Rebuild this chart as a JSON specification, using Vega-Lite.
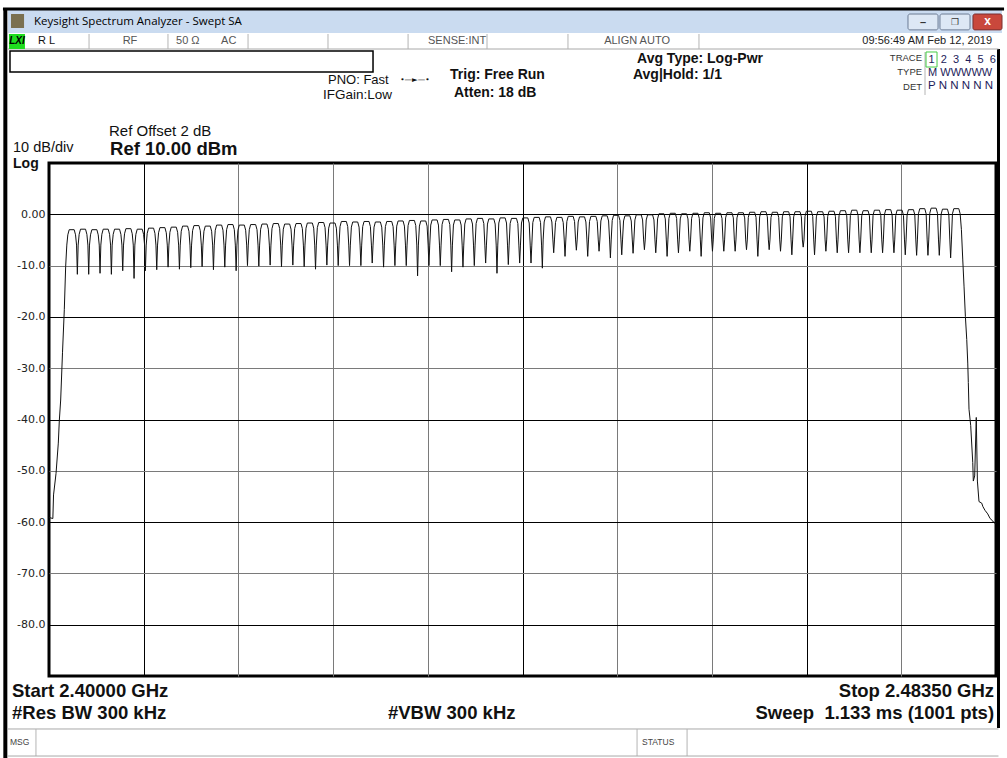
{
"$schema":"https://vega.github.io/schema/vega-lite/v6.json",
"width":947,"height":513,
"autosize":{"type":"none"},
"padding":{"left":49,"top":163,"right":11,"bottom":82},
"background":"white",
"config":{"view":{"stroke":"#000","strokeWidth":3},"text":{"font":"Liberation Sans"}},
"data":{"values":[{}]},
"datasets":{"trace":[
{"f":2400,"p":-59.1},{"f":2400.34,"p":-59.3},{"f":2400.4,"p":-54.7},{"f":2400.62,"p":-50.5},{"f":2400.82,"p":-44.6},{"f":2400.91,"p":-40.2},{"f":2401.03,"p":-36.2},{"f":2401.19,"p":-27},{"f":2401.35,"p":-18.6},{"f":2401.47,"p":-10.1},
{"f":2401.57,"p":-6},{"f":2401.66,"p":-4},{"f":2401.78,"p":-3},{"f":2402.22,"p":-3},{"f":2402.34,"p":-4},{"f":2402.43,"p":-6},{"f":2402.5,"p":-11.7},
{"f":2402.57,"p":-6},{"f":2402.66,"p":-3.9},{"f":2402.78,"p":-2.9},{"f":2403.22,"p":-2.9},{"f":2403.34,"p":-3.9},{"f":2403.43,"p":-6},{"f":2403.5,"p":-11.7},
{"f":2403.57,"p":-6},{"f":2403.66,"p":-4},{"f":2403.78,"p":-3},{"f":2404.22,"p":-3},{"f":2404.34,"p":-4},{"f":2404.43,"p":-6},{"f":2404.5,"p":-11.5},
{"f":2404.57,"p":-6},{"f":2404.66,"p":-3.9},{"f":2404.78,"p":-2.9},{"f":2405.22,"p":-2.9},{"f":2405.34,"p":-3.9},{"f":2405.43,"p":-6},{"f":2405.5,"p":-11.7},
{"f":2405.57,"p":-6},{"f":2405.66,"p":-3.9},{"f":2405.78,"p":-2.9},{"f":2406.22,"p":-2.9},{"f":2406.34,"p":-3.9},{"f":2406.43,"p":-6},{"f":2406.5,"p":-11},
{"f":2406.57,"p":-6},{"f":2406.66,"p":-3.8},{"f":2406.78,"p":-2.8},{"f":2407.22,"p":-2.8},{"f":2407.34,"p":-3.8},{"f":2407.43,"p":-6},{"f":2407.5,"p":-12.5},
{"f":2407.57,"p":-6},{"f":2407.66,"p":-3.9},{"f":2407.78,"p":-2.9},{"f":2408.22,"p":-2.9},{"f":2408.34,"p":-3.9},{"f":2408.43,"p":-6},{"f":2408.5,"p":-11},
{"f":2408.57,"p":-6},{"f":2408.66,"p":-3.7},{"f":2408.78,"p":-2.7},{"f":2409.22,"p":-2.7},{"f":2409.34,"p":-3.7},{"f":2409.43,"p":-6},{"f":2409.5,"p":-10.8},
{"f":2409.57,"p":-6},{"f":2409.66,"p":-3.6},{"f":2409.78,"p":-2.6},{"f":2410.22,"p":-2.6},{"f":2410.34,"p":-3.6},{"f":2410.43,"p":-6},{"f":2410.5,"p":-10.3},
{"f":2410.57,"p":-6},{"f":2410.66,"p":-3.5},{"f":2410.78,"p":-2.5},{"f":2411.22,"p":-2.5},{"f":2411.34,"p":-3.5},{"f":2411.43,"p":-6},{"f":2411.5,"p":-10.7},
{"f":2411.57,"p":-6},{"f":2411.66,"p":-3.3},{"f":2411.78,"p":-2.3},{"f":2412.22,"p":-2.3},{"f":2412.34,"p":-3.3},{"f":2412.43,"p":-6},{"f":2412.5,"p":-10.4},
{"f":2412.57,"p":-6},{"f":2412.66,"p":-3.2},{"f":2412.78,"p":-2.2},{"f":2413.22,"p":-2.2},{"f":2413.34,"p":-3.2},{"f":2413.43,"p":-6},{"f":2413.5,"p":-10.2},
{"f":2413.57,"p":-6},{"f":2413.66,"p":-3.3},{"f":2413.78,"p":-2.3},{"f":2414.22,"p":-2.3},{"f":2414.34,"p":-3.3},{"f":2414.43,"p":-6},{"f":2414.5,"p":-10.8},
{"f":2414.57,"p":-6},{"f":2414.66,"p":-3.1},{"f":2414.78,"p":-2.1},{"f":2415.22,"p":-2.1},{"f":2415.34,"p":-3.1},{"f":2415.43,"p":-6},{"f":2415.5,"p":-10.3},
{"f":2415.57,"p":-6},{"f":2415.66,"p":-3},{"f":2415.78,"p":-2},{"f":2416.22,"p":-2},{"f":2416.34,"p":-3},{"f":2416.43,"p":-6},{"f":2416.5,"p":-11},
{"f":2416.57,"p":-6},{"f":2416.66,"p":-3.1},{"f":2416.78,"p":-2.1},{"f":2417.22,"p":-2.1},{"f":2417.34,"p":-3.1},{"f":2417.43,"p":-6},{"f":2417.5,"p":-10},
{"f":2417.57,"p":-6},{"f":2417.66,"p":-3},{"f":2417.78,"p":-2},{"f":2418.22,"p":-2},{"f":2418.34,"p":-3},{"f":2418.43,"p":-6},{"f":2418.5,"p":-10.1},
{"f":2418.57,"p":-6},{"f":2418.66,"p":-2.9},{"f":2418.78,"p":-1.9},{"f":2419.22,"p":-1.9},{"f":2419.34,"p":-2.9},{"f":2419.43,"p":-6},{"f":2419.5,"p":-9.9},
{"f":2419.57,"p":-6},{"f":2419.66,"p":-2.8},{"f":2419.78,"p":-1.8},{"f":2420.22,"p":-1.8},{"f":2420.34,"p":-2.8},{"f":2420.43,"p":-6},{"f":2420.5,"p":-10.2},
{"f":2420.57,"p":-6},{"f":2420.66,"p":-2.9},{"f":2420.78,"p":-1.9},{"f":2421.22,"p":-1.9},{"f":2421.34,"p":-2.9},{"f":2421.43,"p":-6},{"f":2421.5,"p":-9.9},
{"f":2421.57,"p":-6},{"f":2421.66,"p":-2.8},{"f":2421.78,"p":-1.8},{"f":2422.22,"p":-1.8},{"f":2422.34,"p":-2.8},{"f":2422.43,"p":-6},{"f":2422.5,"p":-10.2},
{"f":2422.57,"p":-6},{"f":2422.66,"p":-2.7},{"f":2422.78,"p":-1.7},{"f":2423.22,"p":-1.7},{"f":2423.34,"p":-2.7},{"f":2423.43,"p":-6},{"f":2423.5,"p":-10.7},
{"f":2423.57,"p":-6},{"f":2423.66,"p":-2.6},{"f":2423.78,"p":-1.6},{"f":2424.22,"p":-1.6},{"f":2424.34,"p":-2.6},{"f":2424.43,"p":-6},{"f":2424.5,"p":-9.9},
{"f":2424.57,"p":-6},{"f":2424.66,"p":-2.7},{"f":2424.78,"p":-1.7},{"f":2425.22,"p":-1.7},{"f":2425.34,"p":-2.7},{"f":2425.43,"p":-6},{"f":2425.5,"p":-10},
{"f":2425.57,"p":-6},{"f":2425.66,"p":-2.4},{"f":2425.78,"p":-1.4},{"f":2426.22,"p":-1.4},{"f":2426.34,"p":-2.4},{"f":2426.43,"p":-6},{"f":2426.5,"p":-10},
{"f":2426.57,"p":-6},{"f":2426.66,"p":-2.5},{"f":2426.78,"p":-1.5},{"f":2427.22,"p":-1.5},{"f":2427.34,"p":-2.5},{"f":2427.43,"p":-6},{"f":2427.5,"p":-10},
{"f":2427.57,"p":-6},{"f":2427.66,"p":-2.4},{"f":2427.78,"p":-1.4},{"f":2428.22,"p":-1.4},{"f":2428.34,"p":-2.4},{"f":2428.43,"p":-6},{"f":2428.5,"p":-9.5},
{"f":2428.57,"p":-6},{"f":2428.66,"p":-2.5},{"f":2428.78,"p":-1.5},{"f":2429.22,"p":-1.5},{"f":2429.34,"p":-2.5},{"f":2429.43,"p":-6},{"f":2429.5,"p":-10.3},
{"f":2429.57,"p":-6},{"f":2429.66,"p":-2.4},{"f":2429.78,"p":-1.4},{"f":2430.22,"p":-1.4},{"f":2430.34,"p":-2.4},{"f":2430.43,"p":-6},{"f":2430.5,"p":-10},
{"f":2430.57,"p":-6},{"f":2430.66,"p":-2.3},{"f":2430.78,"p":-1.3},{"f":2431.22,"p":-1.3},{"f":2431.34,"p":-2.3},{"f":2431.43,"p":-6},{"f":2431.5,"p":-10},
{"f":2431.57,"p":-6},{"f":2431.66,"p":-2.2},{"f":2431.78,"p":-1.2},{"f":2432.22,"p":-1.2},{"f":2432.34,"p":-2.2},{"f":2432.43,"p":-6},{"f":2432.5,"p":-12},
{"f":2432.57,"p":-6},{"f":2432.66,"p":-2.3},{"f":2432.78,"p":-1.3},{"f":2433.22,"p":-1.3},{"f":2433.34,"p":-2.3},{"f":2433.43,"p":-6},{"f":2433.5,"p":-10},
{"f":2433.57,"p":-6},{"f":2433.66,"p":-2.1},{"f":2433.78,"p":-1.1},{"f":2434.22,"p":-1.1},{"f":2434.34,"p":-2.1},{"f":2434.43,"p":-6},{"f":2434.5,"p":-10},
{"f":2434.57,"p":-6},{"f":2434.66,"p":-2},{"f":2434.78,"p":-1},{"f":2435.22,"p":-1},{"f":2435.34,"p":-2},{"f":2435.43,"p":-6},{"f":2435.5,"p":-11.2},
{"f":2435.57,"p":-6},{"f":2435.66,"p":-2.1},{"f":2435.78,"p":-1.1},{"f":2436.22,"p":-1.1},{"f":2436.34,"p":-2.1},{"f":2436.43,"p":-6},{"f":2436.5,"p":-10.3},
{"f":2436.57,"p":-6},{"f":2436.66,"p":-1.9},{"f":2436.78,"p":-0.9},{"f":2437.22,"p":-0.9},{"f":2437.34,"p":-1.9},{"f":2437.43,"p":-6},{"f":2437.5,"p":-10},
{"f":2437.57,"p":-6},{"f":2437.66,"p":-1.8},{"f":2437.78,"p":-0.8},{"f":2438.22,"p":-0.8},{"f":2438.34,"p":-1.8},{"f":2438.43,"p":-6},{"f":2438.5,"p":-9.5},
{"f":2438.57,"p":-6},{"f":2438.66,"p":-1.9},{"f":2438.78,"p":-0.9},{"f":2439.22,"p":-0.9},{"f":2439.34,"p":-1.9},{"f":2439.43,"p":-6},{"f":2439.5,"p":-11.5},
{"f":2439.57,"p":-6},{"f":2439.66,"p":-1.7},{"f":2439.78,"p":-0.7},{"f":2440.22,"p":-0.7},{"f":2440.34,"p":-1.7},{"f":2440.43,"p":-6},{"f":2440.5,"p":-9.8},
{"f":2440.57,"p":-6},{"f":2440.66,"p":-1.8},{"f":2440.78,"p":-0.8},{"f":2441.22,"p":-0.8},{"f":2441.34,"p":-1.8},{"f":2441.43,"p":-6},{"f":2441.5,"p":-9.5},
{"f":2441.57,"p":-6},{"f":2441.66,"p":-1.7},{"f":2441.78,"p":-0.7},{"f":2442.22,"p":-0.7},{"f":2442.34,"p":-1.7},{"f":2442.43,"p":-6},{"f":2442.5,"p":-9.5},
{"f":2442.57,"p":-6},{"f":2442.66,"p":-1.6},{"f":2442.78,"p":-0.6},{"f":2443.22,"p":-0.6},{"f":2443.34,"p":-1.6},{"f":2443.43,"p":-6},{"f":2443.5,"p":-10.5},
{"f":2443.57,"p":-5},{"f":2443.66,"p":-1.5},{"f":2443.78,"p":-0.5},{"f":2444.22,"p":-0.5},{"f":2444.34,"p":-1.5},{"f":2444.43,"p":-5},{"f":2444.5,"p":-7.5},
{"f":2444.57,"p":-5},{"f":2444.66,"p":-1.6},{"f":2444.78,"p":-0.6},{"f":2445.22,"p":-0.6},{"f":2445.34,"p":-1.6},{"f":2445.43,"p":-5},{"f":2445.5,"p":-8.2},
{"f":2445.57,"p":-5},{"f":2445.66,"p":-1.4},{"f":2445.78,"p":-0.4},{"f":2446.22,"p":-0.4},{"f":2446.34,"p":-1.4},{"f":2446.43,"p":-5},{"f":2446.5,"p":-7},
{"f":2446.57,"p":-5},{"f":2446.66,"p":-1.5},{"f":2446.78,"p":-0.5},{"f":2447.22,"p":-0.5},{"f":2447.34,"p":-1.5},{"f":2447.43,"p":-5},{"f":2447.5,"p":-8.2},
{"f":2447.57,"p":-5},{"f":2447.66,"p":-1.4},{"f":2447.78,"p":-0.4},{"f":2448.22,"p":-0.4},{"f":2448.34,"p":-1.4},{"f":2448.43,"p":-5},{"f":2448.5,"p":-7.2},
{"f":2448.57,"p":-5},{"f":2448.66,"p":-1.3},{"f":2448.78,"p":-0.3},{"f":2449.22,"p":-0.3},{"f":2449.34,"p":-1.3},{"f":2449.43,"p":-5},{"f":2449.5,"p":-8.5},
{"f":2449.57,"p":-5},{"f":2449.66,"p":-1.2},{"f":2449.78,"p":-0.2},{"f":2450.22,"p":-0.2},{"f":2450.34,"p":-1.2},{"f":2450.43,"p":-5},{"f":2450.5,"p":-7.9},
{"f":2450.57,"p":-5},{"f":2450.66,"p":-1.3},{"f":2450.78,"p":-0.3},{"f":2451.22,"p":-0.3},{"f":2451.34,"p":-1.3},{"f":2451.43,"p":-5},{"f":2451.5,"p":-7.6},
{"f":2451.57,"p":-5},{"f":2451.66,"p":-1.1},{"f":2451.78,"p":-0.1},{"f":2452.22,"p":-0.1},{"f":2452.34,"p":-1.1},{"f":2452.43,"p":-5},{"f":2452.5,"p":-6.9},
{"f":2452.57,"p":-5},{"f":2452.66,"p":-1.1},{"f":2452.78,"p":-0.1},{"f":2453.22,"p":-0.1},{"f":2453.34,"p":-1.1},{"f":2453.43,"p":-5},{"f":2453.5,"p":-7.5},
{"f":2453.57,"p":-5},{"f":2453.66,"p":-0.9},{"f":2453.78,"p":0.1},{"f":2454.22,"p":0.1},{"f":2454.34,"p":-0.9},{"f":2454.43,"p":-5},{"f":2454.5,"p":-8.2},
{"f":2454.57,"p":-5},{"f":2454.66,"p":-0.8},{"f":2454.78,"p":0.2},{"f":2455.22,"p":0.2},{"f":2455.34,"p":-0.8},{"f":2455.43,"p":-5},{"f":2455.5,"p":-7.5},
{"f":2455.57,"p":-5},{"f":2455.66,"p":-0.9},{"f":2455.78,"p":0.1},{"f":2456.22,"p":0.1},{"f":2456.34,"p":-0.9},{"f":2456.43,"p":-5},{"f":2456.5,"p":-7.2},
{"f":2456.57,"p":-5},{"f":2456.66,"p":-0.8},{"f":2456.78,"p":0.2},{"f":2457.22,"p":0.2},{"f":2457.34,"p":-0.8},{"f":2457.43,"p":-5},{"f":2457.5,"p":-8.2},
{"f":2457.57,"p":-5},{"f":2457.66,"p":-0.7},{"f":2457.78,"p":0.3},{"f":2458.22,"p":0.3},{"f":2458.34,"p":-0.7},{"f":2458.43,"p":-5},{"f":2458.5,"p":-7.2},
{"f":2458.57,"p":-5},{"f":2458.66,"p":-0.8},{"f":2458.78,"p":0.2},{"f":2459.22,"p":0.2},{"f":2459.34,"p":-0.8},{"f":2459.43,"p":-5},{"f":2459.5,"p":-7.2},
{"f":2459.57,"p":-5},{"f":2459.66,"p":-0.7},{"f":2459.78,"p":0.3},{"f":2460.22,"p":0.3},{"f":2460.34,"p":-0.7},{"f":2460.43,"p":-5},{"f":2460.5,"p":-7.2},
{"f":2460.57,"p":-5},{"f":2460.66,"p":-0.7},{"f":2460.78,"p":0.3},{"f":2461.22,"p":0.3},{"f":2461.34,"p":-0.7},{"f":2461.43,"p":-5},{"f":2461.5,"p":-6.9},
{"f":2461.57,"p":-5},{"f":2461.66,"p":-0.6},{"f":2461.78,"p":0.4},{"f":2462.22,"p":0.4},{"f":2462.34,"p":-0.6},{"f":2462.43,"p":-5},{"f":2462.5,"p":-8.2},
{"f":2462.57,"p":-5},{"f":2462.66,"p":-0.5},{"f":2462.78,"p":0.5},{"f":2463.22,"p":0.5},{"f":2463.34,"p":-0.5},{"f":2463.43,"p":-5},{"f":2463.5,"p":-6.9},
{"f":2463.57,"p":-5},{"f":2463.66,"p":-0.6},{"f":2463.78,"p":0.4},{"f":2464.22,"p":0.4},{"f":2464.34,"p":-0.6},{"f":2464.43,"p":-5},{"f":2464.5,"p":-7.2},
{"f":2464.57,"p":-5},{"f":2464.66,"p":-0.5},{"f":2464.78,"p":0.5},{"f":2465.22,"p":0.5},{"f":2465.34,"p":-0.5},{"f":2465.43,"p":-5},{"f":2465.5,"p":-7.9},
{"f":2465.57,"p":-5},{"f":2465.66,"p":-0.5},{"f":2465.78,"p":0.5},{"f":2466.22,"p":0.5},{"f":2466.34,"p":-0.5},{"f":2466.43,"p":-5},{"f":2466.5,"p":-6.4},
{"f":2466.57,"p":-5},{"f":2466.66,"p":-0.4},{"f":2466.78,"p":0.6},{"f":2467.22,"p":0.6},{"f":2467.34,"p":-0.4},{"f":2467.43,"p":-5},{"f":2467.5,"p":-7.9},
{"f":2467.57,"p":-5},{"f":2467.66,"p":-0.5},{"f":2467.78,"p":0.5},{"f":2468.22,"p":0.5},{"f":2468.34,"p":-0.5},{"f":2468.43,"p":-5},{"f":2468.5,"p":-7.2},
{"f":2468.57,"p":-5},{"f":2468.66,"p":-0.4},{"f":2468.78,"p":0.6},{"f":2469.22,"p":0.6},{"f":2469.34,"p":-0.4},{"f":2469.43,"p":-5},{"f":2469.5,"p":-7.5},
{"f":2469.57,"p":-5},{"f":2469.66,"p":-0.3},{"f":2469.78,"p":0.7},{"f":2470.22,"p":0.7},{"f":2470.34,"p":-0.3},{"f":2470.43,"p":-5},{"f":2470.5,"p":-7.5},
{"f":2470.57,"p":-5},{"f":2470.66,"p":-0.2},{"f":2470.78,"p":0.8},{"f":2471.22,"p":0.8},{"f":2471.34,"p":-0.2},{"f":2471.43,"p":-5},{"f":2471.5,"p":-7.5},
{"f":2471.57,"p":-5},{"f":2471.66,"p":-0.3},{"f":2471.78,"p":0.7},{"f":2472.22,"p":0.7},{"f":2472.34,"p":-0.3},{"f":2472.43,"p":-5},{"f":2472.5,"p":-7.5},
{"f":2472.57,"p":-5},{"f":2472.66,"p":-0.2},{"f":2472.78,"p":0.8},{"f":2473.22,"p":0.8},{"f":2473.34,"p":-0.2},{"f":2473.43,"p":-5},{"f":2473.5,"p":-7.5},
{"f":2473.57,"p":-5},{"f":2473.66,"p":-0.1},{"f":2473.78,"p":0.9},{"f":2474.22,"p":0.9},{"f":2474.34,"p":-0.1},{"f":2474.43,"p":-5},{"f":2474.5,"p":-7.5},
{"f":2474.57,"p":-5},{"f":2474.66,"p":-0.2},{"f":2474.78,"p":0.8},{"f":2475.22,"p":0.8},{"f":2475.34,"p":-0.2},{"f":2475.43,"p":-5},{"f":2475.5,"p":-7.9},
{"f":2475.57,"p":-5},{"f":2475.66,"p":-0.1},{"f":2475.78,"p":0.9},{"f":2476.22,"p":0.9},{"f":2476.34,"p":-0.1},{"f":2476.43,"p":-5},{"f":2476.5,"p":-8},
{"f":2476.57,"p":-5},{"f":2476.66,"p":0.1},{"f":2476.78,"p":1.1},{"f":2477.22,"p":1.1},{"f":2477.34,"p":0.1},{"f":2477.43,"p":-5},{"f":2477.5,"p":-8},
{"f":2477.57,"p":-5},{"f":2477.66,"p":0.2},{"f":2477.78,"p":1.2},{"f":2478.22,"p":1.2},{"f":2478.34,"p":0.2},{"f":2478.43,"p":-5},{"f":2478.5,"p":-8},
{"f":2478.57,"p":-5},{"f":2478.66,"p":0},{"f":2478.78,"p":1},{"f":2479.22,"p":1},{"f":2479.34,"p":0},{"f":2479.43,"p":-5},{"f":2479.5,"p":-8.5},
{"f":2479.57,"p":-5},{"f":2479.66,"p":0.1},{"f":2479.78,"p":1.1},{"f":2480.22,"p":1.1},{"f":2480.34,"p":0.1},
{"f":2480.45,"p":-3},{"f":2480.57,"p":-8.9},{"f":2480.68,"p":-14},{"f":2480.8,"p":-19.9},{"f":2480.92,"p":-24.4},{"f":2481.01,"p":-29},{"f":2481.06,"p":-32.8},{"f":2481.12,"p":-38},{"f":2481.27,"p":-41.2},{"f":2481.45,"p":-48.4},{"f":2481.5,"p":-52},{"f":2481.62,"p":-51},{"f":2481.76,"p":-39.6},{"f":2481.86,"p":-52},{"f":2482,"p":-56},{"f":2482.24,"p":-56.3},{"f":2482.35,"p":-57},{"f":2482.53,"p":-57.7},{"f":2482.77,"p":-58.4},{"f":2482.98,"p":-59.3},{"f":2483.22,"p":-59.8},{"f":2483.36,"p":-60.2},{"f":2483.5,"p":-60.3}
]},
"layer":[
{"data":{"name":"trace"},"mark":{"type":"line","color":"#111","strokeWidth":1,"clip":true},
 "encoding":{
  "x":{"field":"f","type":"quantitative","title":null,"scale":{"domain":[2400,2483.5],"nice":false,"zero":false},
   "axis":{"values":[2408.35,2416.7,2425.05,2433.4,2441.75,2450.1,2458.45,2466.8,2475.15],"labels":false,"ticks":false,"domain":false,"title":null,"grid":true,"gridOpacity":1,"gridWidth":1,
    "gridColor":{"condition":{"test":"abs(datum.value-2408.35)<0.01 || abs(datum.value-2441.75)<0.01 || abs(datum.value-2466.8)<0.01","value":"#000"},"value":"#7a7a7a"}}},
  "y":{"field":"p","type":"quantitative","title":null,"scale":{"domain":[-90,10],"nice":false,"zero":false},
   "axis":{"values":[0,-10,-20,-30,-40,-50,-60,-70,-80],"labelExpr":"datum.value == 0 ? '0.00' : datum.value + '.0'","ticks":false,"tickSize":0,"domain":false,"title":null,"grid":true,"gridOpacity":1,"gridWidth":1,
    "labelFont":"DejaVu Sans","labelFontSize":11,"labelColor":"#222","labelPadding":4,
    "gridColor":{"condition":{"test":"datum.value % 20 == 0","value":"#000"},"value":"#7a7a7a"}}}}},
{"mark":{"type":"rect","fill":"#cadbf0"},"encoding":{"x":{"datum":2396.385},"x2":{"datum":2484.03},"y":{"datum":39.82},"y2":{"datum":35.34}}},
{"mark":{"type":"rect","fill":"#7a7050"},"encoding":{"x":{"datum":2396.65},"x2":{"datum":2397.8},"y":{"datum":39.04},"y2":{"datum":36.32}}},
{"mark":{"type":"rect","fill":"#dde8f5","stroke":"#6c7c94","strokeWidth":1,"cornerRadius":2},"encoding":{"x":{"datum":2475.74},"x2":{"datum":2478.39},"y":{"datum":39.04},"y2":{"datum":35.95}}},
{"mark":{"type":"rect","fill":"#dde8f5","stroke":"#6c7c94","strokeWidth":1,"cornerRadius":2},"encoding":{"x":{"datum":2478.56},"x2":{"datum":2481.21},"y":{"datum":39.04},"y2":{"datum":35.95}}},
{"mark":{"type":"rect","fill":"#c9483c","stroke":"#7a3030","strokeWidth":1,"cornerRadius":2},"encoding":{"x":{"datum":2481.47},"x2":{"datum":2484.03},"y":{"datum":39.04},"y2":{"datum":35.95}}},
{"mark":{"type":"text","text":"–","align":"center","baseline":"middle","fontSize":11,"fontWeight":"bold","color":"#333"},"encoding":{"x":{"datum":2477.07},"y":{"datum":37.2}}},
{"mark":{"type":"text","text":"❐","align":"center","baseline":"middle","font":"DejaVu Sans","fontSize":9,"color":"#333"},"encoding":{"x":{"datum":2479.89},"y":{"datum":37.5}}},
{"mark":{"type":"text","text":"x","align":"center","baseline":"middle","fontSize":12,"fontWeight":"bold","color":"#fff"},"encoding":{"x":{"datum":2482.75},"y":{"datum":37.7}}},
{"mark":{"type":"text","text":"Keysight Spectrum Analyzer - Swept SA","align":"left","baseline":"middle","font":"Open Sans","fontSize":11.5,"color":"#000"},"encoding":{"x":{"datum":2398.68},"y":{"datum":37.49}}},
{"mark":{"type":"rule","color":"#000","strokeWidth":3},"encoding":{"x":{"datum":2395.94},"x2":{"datum":2484.21},"y":{"datum":40.02}}},
{"mark":{"type":"rule","color":"#000","strokeWidth":4},"encoding":{"x":{"datum":2396.15},"y":{"datum":40.21},"y2":{"datum":-108.32}}},
{"mark":{"type":"rule","color":"#000","strokeWidth":3},"encoding":{"x":{"datum":2483.72},"y":{"datum":32.22},"y2":{"datum":-100.14}}},
{"mark":{"type":"rule","color":"#a8a8a8","strokeWidth":1},"encoding":{"x":{"datum":2396.385},"x2":{"datum":2483.72},"y":{"datum":32.22}}},
{"mark":{"type":"rule","color":"#b4b4b4","strokeWidth":1},"encoding":{"x":{"datum":2403.53},"y":{"datum":35.15},"y2":{"datum":32.22}}},
{"mark":{"type":"rule","color":"#b4b4b4","strokeWidth":1},"encoding":{"x":{"datum":2410.49},"y":{"datum":35.15},"y2":{"datum":32.22}}},
{"mark":{"type":"rule","color":"#b4b4b4","strokeWidth":1},"encoding":{"x":{"datum":2417.55},"y":{"datum":35.15},"y2":{"datum":32.22}}},
{"mark":{"type":"rule","color":"#b4b4b4","strokeWidth":1},"encoding":{"x":{"datum":2424.6},"y":{"datum":35.15},"y2":{"datum":32.22}}},
{"mark":{"type":"rule","color":"#b4b4b4","strokeWidth":1},"encoding":{"x":{"datum":2431.66},"y":{"datum":35.15},"y2":{"datum":32.22}}},
{"mark":{"type":"rule","color":"#b4b4b4","strokeWidth":1},"encoding":{"x":{"datum":2438.62},"y":{"datum":35.15},"y2":{"datum":32.22}}},
{"mark":{"type":"rule","color":"#b4b4b4","strokeWidth":1},"encoding":{"x":{"datum":2445.76},"y":{"datum":35.15},"y2":{"datum":32.22}}},
{"mark":{"type":"rule","color":"#b4b4b4","strokeWidth":1},"encoding":{"x":{"datum":2457.31},"y":{"datum":35.15},"y2":{"datum":32.22}}},
{"mark":{"type":"rect","fill":"#1fdc1f"},"encoding":{"x":{"datum":2396.47},"x2":{"datum":2397.88},"y":{"datum":35.15},"y2":{"datum":32.22}}},
{"mark":{"type":"text","text":"LXI","align":"center","baseline":"middle","fontSize":10,"fontWeight":"bold","fontStyle":"italic","color":"#000"},"encoding":{"x":{"datum":2397.18},"y":{"datum":33.78}}},
{"mark":{"type":"text","text":"R L","align":"left","baseline":"middle","fontSize":11,"color":"#111"},"encoding":{"x":{"datum":2399.03},"y":{"datum":33.78}}},
{"mark":{"type":"text","text":"RF","align":"center","baseline":"middle","fontSize":11,"color":"#555"},"encoding":{"x":{"datum":2407.14},"y":{"datum":33.78}}},
{"mark":{"type":"text","text":"50 Ω","align":"left","baseline":"middle","fontSize":11,"color":"#555"},"encoding":{"x":{"datum":2411.2},"y":{"datum":33.78}}},
{"mark":{"type":"text","text":"AC","align":"left","baseline":"middle","fontSize":11,"color":"#555"},"encoding":{"x":{"datum":2415.17},"y":{"datum":33.78}}},
{"mark":{"type":"text","text":"SENSE:INT","align":"center","baseline":"middle","fontSize":11,"color":"#555"},"encoding":{"x":{"datum":2435.98},"y":{"datum":33.78}}},
{"mark":{"type":"text","text":"ALIGN AUTO","align":"center","baseline":"middle","fontSize":11,"color":"#555"},"encoding":{"x":{"datum":2451.85},"y":{"datum":33.78}}},
{"mark":{"type":"text","text":"09:56:49 AM Feb 12, 2019","align":"right","baseline":"middle","fontSize":11,"color":"#222"},"encoding":{"x":{"datum":2483.15},"y":{"datum":33.78}}},
{"mark":{"type":"rect","fill":"#fff","stroke":"#000","strokeWidth":1.5},"encoding":{"x":{"datum":2396.56},"x2":{"datum":2428.57},"y":{"datum":31.83},"y2":{"datum":27.74}}},
{"mark":{"type":"text","text":"PNO: Fast","align":"left","baseline":"middle","fontSize":13,"color":"#111"},"encoding":{"x":{"datum":2424.6},"y":{"datum":26.18}}},
{"mark":{"type":"text","text":"IFGain:Low","align":"left","baseline":"middle","fontSize":13.5,"color":"#111"},"encoding":{"x":{"datum":2424.16},"y":{"datum":23.26}}},
{"mark":{"type":"text","text":"•—►—•","align":"center","baseline":"middle","font":"DejaVu Sans","fontSize":7.5,"color":"#111"},"encoding":{"x":{"datum":2432.27},"y":{"datum":26.18}}},
{"mark":{"type":"text","text":"Trig: Free Run","align":"left","baseline":"middle","fontSize":14,"fontWeight":"bold","color":"#111"},"encoding":{"x":{"datum":2435.36},"y":{"datum":27.15}}},
{"mark":{"type":"text","text":"Atten: 18 dB","align":"left","baseline":"middle","fontSize":14,"fontWeight":"bold","color":"#111"},"encoding":{"x":{"datum":2435.71},"y":{"datum":23.65}}},
{"mark":{"type":"text","text":"Avg Type: Log-Pwr","align":"left","baseline":"middle","fontSize":14,"fontWeight":"bold","color":"#111"},"encoding":{"x":{"datum":2451.85},"y":{"datum":30.27}}},
{"mark":{"type":"text","text":"Avg|Hold: 1/1","align":"left","baseline":"middle","fontSize":14,"fontWeight":"bold","color":"#111"},"encoding":{"x":{"datum":2451.49},"y":{"datum":27.15}}},
{"mark":{"type":"rule","color":"#b4b4b4","strokeWidth":1},"encoding":{"x":{"datum":2477.24},"y":{"datum":31.64},"y2":{"datum":23.26}}},
{"mark":{"type":"rect","fill":null,"stroke":"#44cc44","strokeWidth":1},"encoding":{"x":{"datum":2477.33},"x2":{"datum":2478.3},"y":{"datum":31.64},"y2":{"datum":28.71}}},
{"mark":{"type":"text","text":"TRACE","align":"right","baseline":"middle","fontSize":9.5,"color":"#333"},"encoding":{"x":{"datum":2476.98},"y":{"datum":30.47}}},
{"mark":{"type":"text","text":"1\u00a0 2\u00a0 3\u00a0 4\u00a0 5\u00a0 6","align":"left","baseline":"middle","fontSize":11,"color":"#1c1c5a"},"encoding":{"x":{"datum":2477.55},"y":{"datum":30.08}}},
{"mark":{"type":"text","text":"TYPE","align":"right","baseline":"middle","fontSize":9.5,"color":"#333"},"encoding":{"x":{"datum":2476.98},"y":{"datum":27.74}}},
{"mark":{"type":"text","text":"M WWWWW","align":"left","baseline":"middle","fontSize":11,"color":"#1c1c5a"},"encoding":{"x":{"datum":2477.51},"y":{"datum":27.54}}},
{"mark":{"type":"text","text":"DET","align":"right","baseline":"middle","fontSize":9.5,"color":"#333"},"encoding":{"x":{"datum":2476.98},"y":{"datum":24.81}}},
{"mark":{"type":"text","text":"P N N N N N","align":"left","baseline":"middle","fontSize":11.5,"color":"#1c1c5a"},"encoding":{"x":{"datum":2477.51},"y":{"datum":25.01}}},
{"mark":{"type":"text","text":"Ref Offset 2 dB","align":"left","baseline":"middle","fontSize":15,"color":"#111"},"encoding":{"x":{"datum":2405.29},"y":{"datum":16.24}}},
{"mark":{"type":"text","text":"Ref 10.00 dBm","align":"left","baseline":"middle","fontSize":18.5,"fontWeight":"bold","color":"#111"},"encoding":{"x":{"datum":2405.38},"y":{"datum":12.73}}},
{"mark":{"type":"text","text":"10 dB/div","align":"left","baseline":"middle","fontSize":14.5,"color":"#111"},"encoding":{"x":{"datum":2396.83},"y":{"datum":12.9}}},
{"mark":{"type":"text","text":"Log","align":"left","baseline":"middle","fontSize":14,"fontWeight":"bold","color":"#111"},"encoding":{"x":{"datum":2396.83},"y":{"datum":9.9}}},
{"mark":{"type":"text","text":"Start 2.40000 GHz","align":"left","baseline":"middle","fontSize":18.5,"fontWeight":"bold","color":"#111"},"encoding":{"x":{"datum":2396.74},"y":{"datum":-92.92}}},
{"mark":{"type":"text","text":"Stop 2.48350 GHz","align":"right","baseline":"middle","fontSize":18.5,"fontWeight":"bold","color":"#111"},"encoding":{"x":{"datum":2483.33},"y":{"datum":-92.92}}},
{"mark":{"type":"text","text":"#Res BW 300 kHz","align":"left","baseline":"middle","fontSize":18.5,"fontWeight":"bold","color":"#111"},"encoding":{"x":{"datum":2396.74},"y":{"datum":-97.21}}},
{"mark":{"type":"text","text":"#VBW 300 kHz","align":"left","baseline":"middle","fontSize":18.5,"fontWeight":"bold","color":"#111"},"encoding":{"x":{"datum":2429.89},"y":{"datum":-97.21}}},
{"mark":{"type":"text","text":"Sweep\u00a0 1.133 ms (1001 pts)","align":"right","baseline":"middle","fontSize":18.5,"fontWeight":"bold","color":"#111"},"encoding":{"x":{"datum":2483.33},"y":{"datum":-97.21}}},
{"mark":{"type":"rule","color":"#a8a8a8","strokeWidth":1},"encoding":{"x":{"datum":2396.385},"x2":{"datum":2483.72},"y":{"datum":-100.33}}},
{"mark":{"type":"rule","color":"#b4b4b4","strokeWidth":1},"encoding":{"x":{"datum":2398.85},"y":{"datum":-100.33},"y2":{"datum":-105.6}}},
{"mark":{"type":"rule","color":"#b4b4b4","strokeWidth":1},"encoding":{"x":{"datum":2451.85},"y":{"datum":-100.33},"y2":{"datum":-105.6}}},
{"mark":{"type":"rule","color":"#b4b4b4","strokeWidth":1},"encoding":{"x":{"datum":2456.26},"y":{"datum":-100.33},"y2":{"datum":-105.6}}},
{"mark":{"type":"rule","color":"#a8a8a8","strokeWidth":1},"encoding":{"x":{"datum":2396.385},"x2":{"datum":2483.72},"y":{"datum":-105.6}}},
{"mark":{"type":"text","text":"MSG","align":"left","baseline":"middle","fontSize":8.5,"color":"#444"},"encoding":{"x":{"datum":2396.56},"y":{"datum":-102.87}}},
{"mark":{"type":"text","text":"STATUS","align":"left","baseline":"middle","fontSize":8.5,"color":"#444"},"encoding":{"x":{"datum":2452.29},"y":{"datum":-102.87}}}
]
}
